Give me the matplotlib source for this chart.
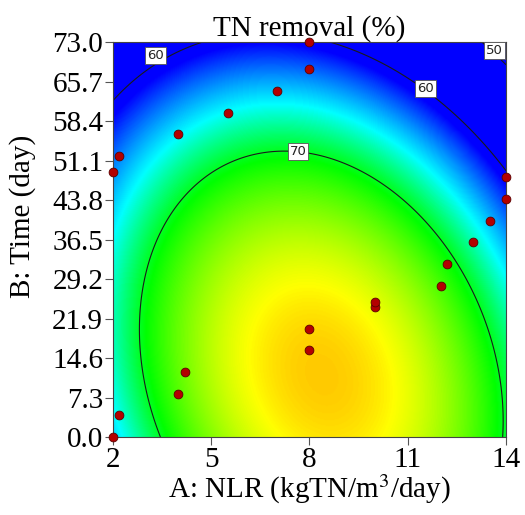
import numpy as np
import matplotlib
matplotlib.use("Agg")
import matplotlib.pyplot as plt
from matplotlib.colors import LinearSegmentedColormap

plt.rcParams['font.family'] = ['Liberation Serif', 'DejaVu Serif']
plt.rcParams['mathtext.fontset'] = 'stix'

# design points (A: NLR, B: Time)
nlr = [2, 2.2, 4, 4.2, 8, 8, 10, 10, 12, 12.2, 13, 13.5, 14, 14,
       2, 2.2, 4, 5.5, 7, 8, 8]
time = [0, 4, 8, 12, 16, 20, 24, 25, 28, 32, 36, 40, 44, 48,
        49, 52, 56, 60, 64, 68, 73]

# quadratic response surface
peak = 77.47
a_center, b_center = 8.36, 11.45
k_aa, k_bb, k_ab = 0.253, 0.004544, 0.01381

contour_levels = [50, 60, 70]
x_ticks = [2, 5, 8, 11, 14]
y_ticks = [0.0, 7.3, 14.6, 21.9, 29.2, 36.5, 43.8, 51.1, 58.4, 65.7, 73.0]

# colour stops: response value -> colour
stop_vals = [61.0, 66.5, 70.5, 76.3, 82.0]
stop_cols = ["#0000ff", "#00ffff", "#00ff00", "#ffff00", "#ff0000"]

# contour label positions (A, B, text)
label_pos = [(3.3, 70.6, "60"), (11.55, 64.4, "60"), (7.65, 52.8, "70"), (13.65, 71.4, "50")]

A, B = np.meshgrid(np.linspace(2, 14, 400), np.linspace(0, 73, 400))
u = A - a_center
v = B - b_center
Z = peak - k_aa * u**2 - k_bb * v**2 - k_ab * u * v

vmin, vmax = stop_vals[0], stop_vals[-1]
cmap = LinearSegmentedColormap.from_list(
    "de", [((s - vmin) / (vmax - vmin), c) for s, c in zip(stop_vals, stop_cols)])

fig = plt.figure(figsize=(5.25, 5.15), dpi=100)
ax = fig.add_axes([0.215, 0.1515, 0.749, 0.7665])

ax.imshow(Z, extent=[2, 14, 0, 73], origin="lower", aspect="auto",
          cmap=cmap, vmin=vmin, vmax=vmax, interpolation="bilinear")
ax.contour(A, B, Z, levels=contour_levels, colors="#1a1a1a", linewidths=0.8)

for xa, yb, t in label_pos:
    ax.text(xa, yb, t, fontsize=9.5, family="DejaVu Sans", ha="center", va="center",
            color="#222222",
            bbox=dict(boxstyle="square,pad=0.15", fc="white", ec="#555555", lw=0.6))

ax.scatter(nlr, time, s=40, c="#b30000", edgecolors="#5a0000", linewidths=0.6,
           zorder=5, clip_on=False)

ax.set_xlim(2, 14)
ax.set_ylim(0, 73)
ax.set_xticks(x_ticks)
ax.set_yticks(y_ticks)
ax.set_yticklabels([f"{t:.1f}" for t in y_ticks])
ax.tick_params(labelsize=21, direction="out", length=6, width=0.8, pad=1,
               color="#555555")
for s in ax.spines.values():
    s.set_linewidth(0.8)
    s.set_color("#444444")

ax.set_title("TN removal (%)", fontsize=21, pad=2)
ax.set_xlabel("A: NLR (kgTN/m$^{3}$/day)", fontsize=21, labelpad=0)
ax.set_ylabel("B: Time (day)", fontsize=21)
ax.yaxis.set_label_coords(-0.196, 0.56)

fig.savefig("out.png", dpi=100)
